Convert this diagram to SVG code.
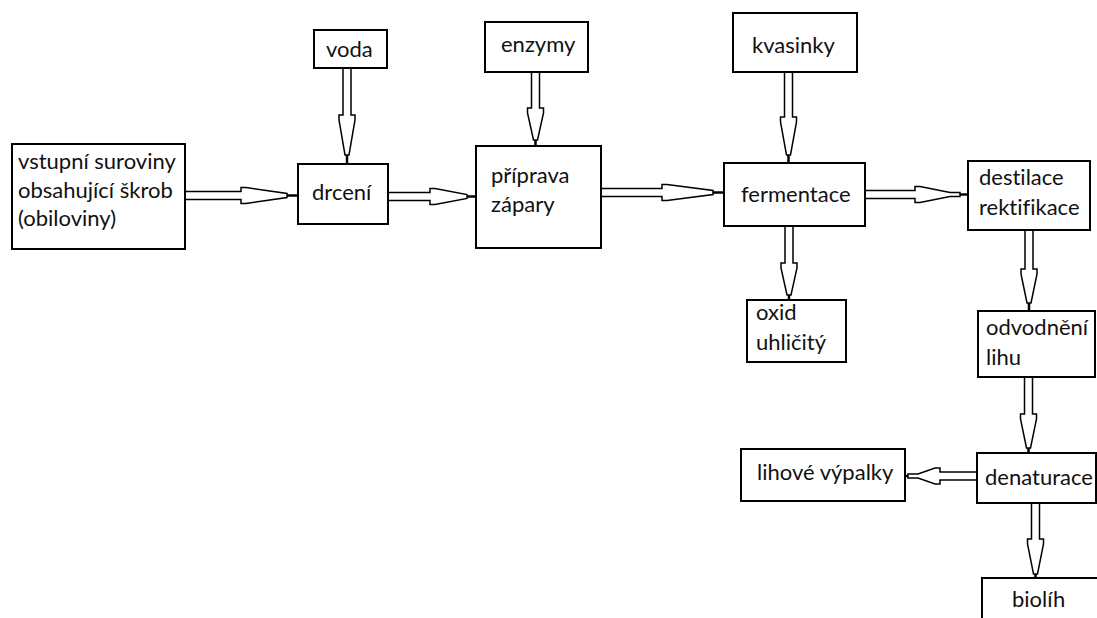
<svg xmlns="http://www.w3.org/2000/svg" width="1097" height="618" viewBox="0 0 1097 618">
  <style>
    .box { fill: #fff; stroke: #000; stroke-width: 2; }
    .lbl { font-family: Lato, "Liberation Sans", sans-serif; font-size: 22px; fill: #111; font-variant-ligatures: none; }
    .arr { fill: #fff; stroke: #000; stroke-width: 1.5; stroke-linejoin: miter; }
    .tip { stroke: #000; stroke-width: 2.5; fill: none; }
  </style>
  <rect width="1097" height="618" fill="#fff"/>

  <!-- connectors: hollow double-line block arrows -->
  <g id="connectors">
    <!-- rightward: input -> drcení -->
    <path class="arr" d="M185,191.5 H241 V187.5 H246 L287,193.5 V197.5 L246,203.5 H241 V199.5 H185"/>
    <line class="tip" x1="287" y1="195.5" x2="298" y2="195.5"/>
    <!-- drcení -> příprava zápary -->
    <path class="arr" d="M388,192.5 H430 V188.5 H435 L467,194.5 V198.5 L435,204.5 H430 V200.5 H388"/>
    <line class="tip" x1="467" y1="196.5" x2="476" y2="196.5"/>
    <!-- příprava zápary -> fermentace -->
    <path class="arr" d="M601,188.5 H662 V184.5 H667 L713,190.5 V194.5 L667,200.5 H662 V196.5 H601"/>
    <line class="tip" x1="713" y1="192.5" x2="724" y2="192.5"/>
    <!-- fermentace -> destilace -->
    <path class="arr" d="M865,190.5 H915 V186.5 H920 L950,192.5 H960 V196.5 H950 L920,202.5 H915 V198.5 H865"/>
    <line class="tip" x1="960" y1="194.5" x2="968" y2="194.5"/>
    <!-- denaturace -> lihové výpalky (leftward) -->
    <path class="arr" d="M977,472 H940 V468 H935 L918,474 H908 V478 H918 L935,484 H940 V480 H977"/>
    <line class="tip" x1="908" y1="476" x2="905" y2="476"/>

    <!-- downward: voda -> drcení -->
    <path class="arr" d="M343,68 V115 H339 V120 L345,155 H349 L355,120 V115 H351 V68"/>
    <line class="tip" x1="347" y1="155" x2="347" y2="164"/>
    <!-- enzymy -> příprava zápary -->
    <path class="arr" d="M531.5,72 V108 H527.5 V113 L533.5,140 H537.5 L543.5,113 V108 H539.5 V72"/>
    <line class="tip" x1="535.5" y1="140" x2="535.5" y2="146"/>
    <!-- kvasinky -> fermentace -->
    <path class="arr" d="M784.5,72 V117 H780.5 V122 L786.5,155 H790.5 L796.5,122 V117 H792.5 V72"/>
    <line class="tip" x1="788.5" y1="155" x2="788.5" y2="163"/>
    <!-- fermentace -> oxid uhličitý -->
    <path class="arr" d="M785,226 V263 H781 V268 L787,295 H791 L797,268 V263 H793 V226"/>
    <line class="tip" x1="789" y1="295" x2="789" y2="300"/>
    <!-- destilace -> odvodnění -->
    <path class="arr" d="M1025,230 V269 H1021 V274 L1027,303 H1031 L1037,274 V269 H1033 V230"/>
    <line class="tip" x1="1029" y1="303" x2="1029" y2="311"/>
    <!-- odvodnění -> denaturace -->
    <path class="arr" d="M1024.5,377 V414 H1020.5 V419 L1026.5,448 H1030.5 L1036.5,419 V414 H1032.5 V377"/>
    <line class="tip" x1="1028.5" y1="448" x2="1028.5" y2="453"/>
    <!-- denaturace -> biolíh -->
    <path class="arr" d="M1031.5,503 V539 H1027.5 V544 L1033.5,574 H1037.5 L1043.5,544 V539 H1039.5 V503"/>
    <line class="tip" x1="1035.5" y1="574" x2="1035.5" y2="578"/>
  </g>

  <g id="vstup">
    <rect class="box" x="12" y="144" width="173" height="105"/>
    <text class="lbl" x="18" y="169">vstupní suroviny</text>
    <text class="lbl" x="18" y="198">obsahující škrob</text>
    <text class="lbl" x="18" y="226">(obiloviny)</text>
  </g>
  <g id="drceni">
    <rect class="box" x="298" y="164" width="90" height="60"/>
    <text class="lbl" x="312" y="200">drcení</text>
  </g>
  <g id="voda">
    <rect class="box" x="314" y="30" width="73" height="38"/>
    <text class="lbl" x="326" y="57">voda</text>
  </g>
  <g id="enzymy">
    <rect class="box" x="485" y="22" width="103" height="50"/>
    <text class="lbl" x="501" y="52">enzymy</text>
  </g>
  <g id="priprava">
    <rect class="box" x="476" y="146" width="125" height="102"/>
    <text class="lbl" x="491" y="183">příprava</text>
    <text class="lbl" x="491" y="212">zápary</text>
  </g>
  <g id="kvasinky">
    <rect class="box" x="733" y="13" width="124" height="59"/>
    <text class="lbl" x="752" y="53">kvasinky</text>
  </g>
  <g id="fermentace">
    <rect class="box" x="724" y="163" width="141" height="63"/>
    <text class="lbl" x="741" y="202">fermentace</text>
  </g>
  <g id="destilace">
    <rect class="box" x="968" y="161" width="122" height="69"/>
    <text class="lbl" x="979" y="185">destilace</text>
    <text class="lbl" x="979" y="215">rektifikace</text>
  </g>
  <g id="oxid">
    <rect class="box" x="747" y="300" width="99" height="62"/>
    <text class="lbl" x="756" y="320">oxid</text>
    <text class="lbl" x="756" y="350">uhličitý</text>
  </g>
  <g id="odvodneni">
    <rect class="box" x="978" y="311" width="117" height="66"/>
    <text class="lbl" x="986" y="335">odvodnění</text>
    <text class="lbl" x="986" y="365">lihu</text>
  </g>
  <g id="vypalky">
    <rect class="box" x="741" y="449" width="164" height="52"/>
    <text class="lbl" x="757" y="480">lihové výpalky</text>
  </g>
  <g id="denaturace">
    <rect class="box" x="977" y="453" width="119" height="50"/>
    <text class="lbl" x="985" y="485">denaturace</text>
  </g>
  <g id="biolih">
    <rect class="box" x="982" y="578" width="130" height="60"/>
    <text class="lbl" x="1012" y="607">biolíh</text>
  </g>
</svg>
